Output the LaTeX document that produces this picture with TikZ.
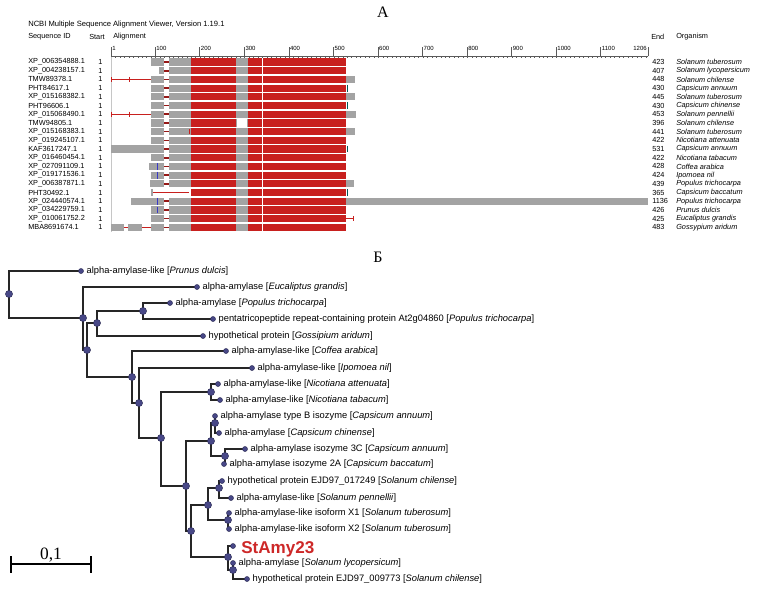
\documentclass[tikz,border=0pt]{standalone}
\usepackage{fontspec}
\setmainfont{Liberation Serif}
\setsansfont{Liberation Sans}
\usetikzlibrary{positioning,backgrounds}
\definecolor{alnred}{RGB}{200,32,30}
\definecolor{alngray}{RGB}{163,163,163}
\definecolor{nodeblue}{RGB}{72,72,135}
\definecolor{rulergray}{RGB}{90,90,90}
\definecolor{amyred}{RGB}{205,40,40}
\tikzset{
  txt/.style={inner sep=0pt, anchor=west, font=\sffamily\fontsize{5.5}{6}\selectfont},
  orgtxt/.style={inner sep=0pt, anchor=west, font=\sffamily\itshape\fontsize{5.5}{6}\selectfont},
  rulnum/.style={inner sep=0pt, anchor=base west, font=\sffamily\fontsize{4.5}{5}\selectfont},
  leafdot/.style={circle, inner sep=0pt, minimum size=3.8pt, fill=nodeblue, draw=nodeblue!60!black, line width=0.3pt},
  inode/.style={circle, inner sep=0pt, minimum size=5.4pt, fill=nodeblue, draw=nodeblue!60!black, line width=0.3pt},
  leaflabel/.style={inner sep=0pt, anchor=west, font=\sffamily\fontsize{7}{8}\selectfont},
  treeline/.style={line width=0.85pt, black!85},
  panel/.style={inner sep=0pt, font=\fontsize{12}{12}\selectfont},
}
\begin{document}
\begin{tikzpicture}[x=0.75pt,y=-0.75pt]
\useasboundingbox (0,0) rectangle (768,590);
\def\ry#1{(62+(#1-1)*8.7)}
\def\res#1{(111+(#1-1)*0.4456)}

% panel letters
\node[panel] (panA) at (383,12) {А};
\node[panel] (panB) at (378,257) {Б};

% ---------- A: alignment ----------
\node[txt, font=\sffamily\fontsize{5.7}{6}\selectfont] (title) at (28,25) {NCBI Multiple Sequence Alignment Viewer, Version 1.19.1};
\node[txt] (hSeq) at (28,37) {Sequence ID};
\node[txt] (hStart) at (89,37) {Start};
\node[txt] (hAln) at (113,37) {Alignment};
\node[txt] (hEnd) at (651,37) {End};
\node[txt] (hOrg) at (676,37) {Organism};

% ruler
\draw[rulergray, line width=0.5pt] (111,56) coordinate(rulL) -- (648,56) coordinate(rulR);
\foreach \k in {0,...,120}
  \draw[rulergray, line width=0.3pt] ({\res{1+10*\k}},56) -- ++(0,2);
\foreach \n in {1,100,200,300,400,500,600,700,800,900,1000,1100} {
  \draw[rulergray, line width=0.4pt] ({\res{\n}},56) -- ++(0,-9);
  \node[rulnum] (r\n) at ({\res{\n}+1},50) {\n};
}
\draw[rulergray, line width=0.4pt] (rulR) -- ++(0,-9);
\node[rulnum, anchor=base east] (r1206) at (647,50) {1206};

% frame line
\draw[gray!45, line width=0.4pt] (111,57) -- (111,232);

% rows
\foreach \id/\len/\org/\gs [count=\i] in {
  XP\_006354888.1/423/Solanum tuberosum/151,
  XP\_004238157.1/407/Solanum lycopersicum/159,
  TMW89378.1/448/Solanum chilense/151,
  PHT84617.1/430/Capsicum annuum/151,
  XP\_015168382.1/445/Solanum tuberosum/151,
  PHT96606.1/430/Capsicum chinense/151,
  XP\_015068490.1/453/Solanum pennellii/151,
  TMW94805.1/396/Solanum chilense/151,
  XP\_015168383.1/441/Solanum tuberosum/151,
  XP\_019245107.1/422/Nicotiana attenuata/151,
  KAF3617247.1/531/Capsicum annuum/151,
  XP\_016460454.1/422/Nicotiana tabacum/151,
  XP\_027091109.1/428/Coffea arabica/149,
  XP\_019171536.1/424/Ipomoea nil/151,
  XP\_006387871.1/439/Populus trichocarpa/150,
  PHT30492.1/365/Capsicum baccatum/151,
  XP\_024440574.1/1136/Populus trichocarpa/151,
  XP\_034229759.1/426/Prunus dulcis/151,
  XP\_010061752.2/425/Eucaliptus grandis/151,
  MBA8691674.1/483/Gossypium aridum/151} {
  \pgfmathsetmacro\yy{62+(\i-1)*8.7}
  \node[txt] (id\i) at (28,\yy) {\id};
  \node[txt] (st\i) at (98,\yy) {1};
  \node[txt] (en\i) at (652,\yy) {\len};
  \node[orgtxt] (org\i) at (676,\yy) {\org};
  \fill[alngray] (\gs,{\yy-3.6}) rectangle (190.5,{\yy+3.6});
  \fill[alnred] (190.5,{\yy-3.6}) rectangle (236,{\yy+3.6});
  \fill[alngray] (236,{\yy-3.6}) rectangle (248,{\yy+3.6});
  \fill[alnred] (248,{\yy-3.6}) rectangle (262.3,{\yy+3.6});
  \fill[alnred] (263.3,{\yy-3.6}) rectangle (346,{\yy+3.6});
  \fill[white] (164,{\yy-3.6}) rectangle (169,{\yy+3.6});
  \fill[alnred!75!black] (164.4,{\yy-0.8}) rectangle (168.6,{\yy+0.8});
}

% leader lines of rows 3 and 7
\foreach \r in {3,7} {
  \draw[alnred, line width=0.9pt] (111,{\ry{\r}}) -- (151,{\ry{\r}});
  \foreach \t in {111.6,129}
    \draw[alnred, line width=0.7pt] (\t,{\ry{\r}-2.6}) -- (\t,{\ry{\r}+2.6});
}
% gray tails on the right
\foreach \r/\xe in {3/355,5/355,7/356,9/355,15/354,17/648}
  \fill[alngray] (346,{\ry{\r}-3.6}) rectangle (\xe,{\ry{\r}+3.6});
% gray on the left
\foreach \r/\xs in {11/111,17/131}
  \fill[alngray] (\xs,{\ry{\r}-3.6}) rectangle (151,{\ry{\r}+3.6});
% row 20
\fill[alngray] (111,{\ry{20}-3.6}) rectangle (124,{\ry{20}+3.6});
\fill[alngray] (128,{\ry{20}-3.6}) rectangle (142,{\ry{20}+3.6});
\draw[alnred, line width=0.9pt] (124,{\ry{20}}) -- (128,{\ry{20}}) (142,{\ry{20}}) -- (151,{\ry{20}});
% row 8 gap
\fill[white] (237,{\ry{8}-3.6}) rectangle (247,{\ry{8}+3.6});
% row 16
\fill[white] (153,{\ry{16}-3.6}) rectangle (190.5,{\ry{16}+3.6});
\draw[alnred, line width=1.1pt] (153,{\ry{16}}) -- (189,{\ry{16}});
% row 19
\draw[alnred, line width=0.7pt] (346,{\ry{19}}) -- (353,{\ry{19}}) (353,{\ry{19}-2.6}) -- (353,{\ry{19}+2.6});
% row 9
\draw[alnred, line width=0.7pt] (189,{\ry{9}-2.6}) -- (189,{\ry{9}+2.6});
% small marks
\foreach \r in {4,6,11,16}
  \draw[teal!70!black, line width=0.6pt] (347.2,{\ry{\r}-3.4}) -- (347.2,{\ry{\r}+3.4});
\foreach \r in {13,14,17,18}
  \draw[blue!55!gray, line width=0.5pt] (157,{\ry{\r}-3.4}) -- (157,{\ry{\r}+3.4});

% ---------- B: tree ----------
\foreach \nm/\px/\py in {root/9/294, n2/83/318, n3/87/350, n4/97/323, nP/143/311,
  n6/132/377, n7/139/403, n8/161/438, nNic/211/392, n9/186/486, n10/211/441,
  n11/215/423, n12/225/456, n14/191/531, n13/208/505, n13a/219/488,
  n13b/228/520, n15/228/557, n16/233/570}
  \node[inode] (\nm) at (\px,\py) {};

\foreach \nm/\px/\py/\lab in {
  lPrunus/81/271/{alpha-amylase-like [\textit{Prunus dulcis}]},
  lEucal/197/287/{alpha-amylase [\textit{Eucaliptus grandis}]},
  lPopTr/170/303/{alpha-amylase [\textit{Populus trichocarpa}]},
  lPenta/213/319/{pentatricopeptide repeat-containing protein At2g04860 [\textit{Populus trichocarpa}]},
  lGossi/203/336/{hypothetical protein [\textit{Gossipium aridum}]},
  lCoffe/226/351/{alpha-amylase-like [\textit{Coffea arabica}]},
  lIpomo/252/368/{alpha-amylase-like [\textit{Ipomoea nil}]},
  lNicAt/218/384/{alpha-amylase-like [\textit{Nicotiana attenuata}]},
  lNicTa/220/400/{alpha-amylase-like [\textit{Nicotiana tabacum}]},
  lCapAn/215/416/{alpha-amylase type B isozyme [\textit{Capsicum annuum}]},
  lCapCh/219/433/{alpha-amylase [\textit{Capsicum chinense}]},
  lIsoC/245/449/{alpha-amylase isozyme 3C [\textit{Capsicum annuum}]},
  lIsoA/224/464/{alpha-amylase isozyme 2A [\textit{Capsicum baccatum}]},
  lEjdA/222/481/{hypothetical protein EJD97\_017249 [\textit{Solanum chilense}]},
  lPenne/231/498/{alpha-amylase-like [\textit{Solanum pennellii}]},
  lIsoXa/229/513/{alpha-amylase-like isoform X1 [\textit{Solanum tuberosum}]},
  lIsoXb/229/529/{alpha-amylase-like isoform X2 [\textit{Solanum tuberosum}]},
  lLycop/233/563/{alpha-amylase [\textit{Solanum lycopersicum}]},
  lEjdB/247/579/{hypothetical protein EJD97\_009773 [\textit{Solanum chilense}]}} {
  \node[leafdot] (\nm) at (\px,\py) {};
  \node[leaflabel, right=2pt of \nm] (t\nm) {\lab};
}
\node[leafdot] (lStAmy) at (233,546) {};
\node[inner sep=0pt, anchor=base west, text=amyred, font=\sffamily\bfseries\fontsize{12.8}{13}\selectfont] (tStAmy) at (241,553) {StAmy23};

\begin{scope}[on background layer]
\foreach \pa/\ch in {root/lPrunus, root/n2, n2/lEucal, n2/n3, n3/n4, n3/n6,
  n4/nP, n4/lGossi, nP/lPopTr, nP/lPenta, n6/lCoffe, n6/n7, n7/lIpomo, n7/n8,
  n8/nNic, n8/n9, nNic/lNicAt, nNic/lNicTa, n9/n10, n9/n14, n10/n11, n10/n12,
  n11/lCapAn, n11/lCapCh, n12/lIsoC, n12/lIsoA, n14/n13, n14/n15, n13/n13a,
  n13/n13b, n13a/lEjdA, n13a/lPenne, n13b/lIsoXa, n13b/lIsoXb, n15/lStAmy,
  n15/n16, n16/lLycop, n16/lEjdB}
  \draw[treeline] (\pa.center) |- (\ch.center);
\end{scope}

% scale bar
\coordinate (sbL) at (11,564);
\coordinate (sbR) at (91,564);
\draw[line width=1.4pt] (sbL) -- (sbR);
\draw[line width=1.4pt] (sbL) ++(0,-8) -- ++(0,17);
\draw[line width=1.4pt] (sbR) ++(0,-8) -- ++(0,17);
\node[inner sep=0pt, anchor=base, font=\fontsize{13}{13}\selectfont] (sbLabel) at (51,559) {0,1};
\end{tikzpicture}
\end{document}
